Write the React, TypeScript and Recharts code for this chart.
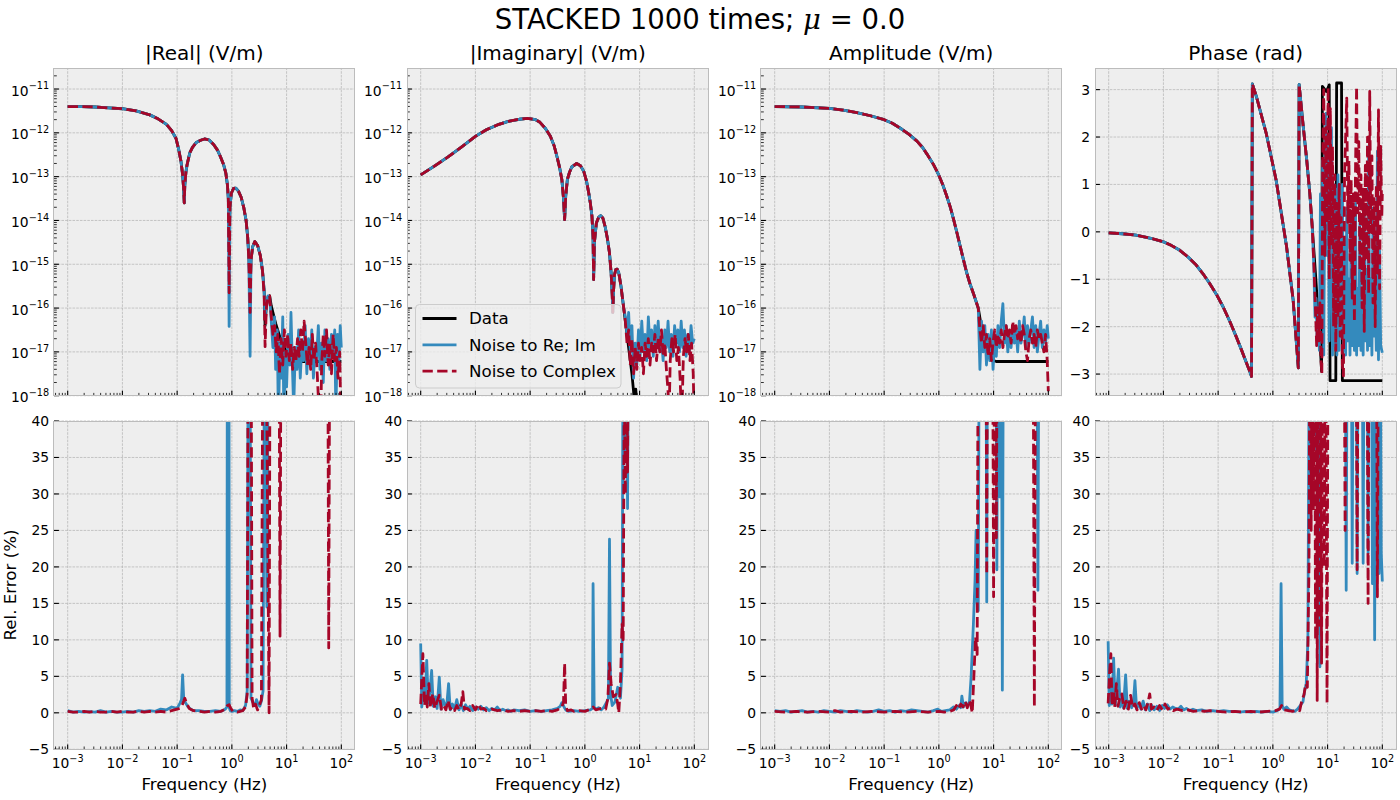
import React from 'react';
import { LineChart, Line, XAxis, YAxis, ReferenceLine } from 'recharts';

type Pair = [number, number];
type Pt = { f: number; v: number };

const C_DATA = '#000000';
const C_REIM = '#348ABD';
const C_CPLX = '#A60628';
const FONT = "'DejaVu Sans', 'Liberation Sans', sans-serif";

// ---------------- |Real| (V/m): [log10 f (Hz), log10 |Re E| (V/m)] ----------------
const realHead: Pair[] = [
  [-3.0, -11.4], [-2.75, -11.4], [-2.5, -11.41], [-2.25, -11.43], [-2.0, -11.45], [-1.75, -11.5],
  [-1.5, -11.59], [-1.35, -11.68], [-1.2, -11.8], [-1.1, -11.95], [-1.02, -12.13], [-0.97, -12.39],
  [-0.93, -12.65], [-0.9, -12.95], [-0.88, -13.3], [-0.87, -13.6], [-0.86, -13.2], [-0.84, -12.9],
  [-0.82, -12.74], [-0.77, -12.46], [-0.72, -12.33], [-0.65, -12.22], [-0.57, -12.17], [-0.5, -12.14],
  [-0.42, -12.16], [-0.33, -12.27], [-0.26, -12.4], [-0.21, -12.54], [-0.15, -12.73], [-0.11, -12.92],
  [-0.08, -13.2], [-0.065, -13.5],
];
const realDataTail: Pair[] = [
  [-0.05, -14.6], [-0.035, -13.7], [-0.01, -13.38], [0.03, -13.27], [0.07, -13.26], [0.12, -13.33],
  [0.17, -13.47], [0.22, -13.72], [0.26, -14.0], [0.29, -14.4], [0.31, -14.8], [0.333, -15.6],
  [0.35, -14.9], [0.38, -14.6], [0.42, -14.48], [0.47, -14.57], [0.52, -14.8], [0.56, -15.15],
  [0.59, -15.6], [0.607, -16.4], [0.63, -15.95], [0.66, -15.75], [0.69, -15.72], [0.72, -15.95],
  [0.8, -16.35], [0.9, -16.75], [1.0, -17.0], [1.1, -17.15], [1.2, -17.22], [2.0, -17.22],
];
const realReImTail: Pair[] = [
  [-0.05, -16.42], [-0.035, -13.7], [-0.01, -13.38], [0.03, -13.27], [0.07, -13.26], [0.12, -13.33],
  [0.17, -13.47], [0.22, -13.72], [0.26, -14.0], [0.29, -14.4], [0.31, -14.9], [0.333, -17.1],
  [0.35, -14.9], [0.38, -14.6], [0.42, -14.48], [0.47, -14.57], [0.52, -14.8], [0.56, -15.15],
  [0.59, -15.6], [0.607, -16.2], [0.63, -15.9], [0.66, -15.72], [0.69, -15.75], [0.72, -16.3],
  [0.75, -16.9], [0.78, -16.2], [0.8, -17.4], [0.83, -16.5], [0.85, -18.6], [0.88, -16.8], [0.9, -17.6],
  [0.93, -16.2], [0.95, -18.5], [0.98, -17.0], [1.0, -17.8], [1.03, -16.6], [1.06, -17.3], [1.08, -16.1],
  [1.11, -17.5], [1.13, -18.3], [1.16, -16.9], [1.19, -17.4], [1.22, -16.5], [1.25, -17.6], [1.28, -16.8],
  [1.31, -17.2], [1.34, -16.4], [1.37, -17.5], [1.4, -16.7], [1.43, -17.3], [1.46, -16.5], [1.49, -17.6],
  [1.52, -16.9], [1.55, -17.1], [1.58, -16.4], [1.61, -17.4], [1.64, -16.8], [1.67, -17.7], [1.7, -16.5],
  [1.73, -17.2], [1.76, -16.7], [1.79, -17.4], [1.82, -16.6], [1.85, -17.0], [1.88, -16.5], [1.9, -18.4],
  [1.93, -16.6], [1.96, -17.2], [1.98, -16.4], [2.0, -16.9],
];
const realCplxTail: Pair[] = [
  [-0.05, -15.65], [-0.035, -13.7], [-0.01, -13.38], [0.03, -13.27], [0.07, -13.26], [0.12, -13.33],
  [0.17, -13.47], [0.22, -13.72], [0.26, -14.0], [0.29, -14.4], [0.31, -14.9], [0.333, -16.1],
  [0.35, -14.9], [0.38, -14.6], [0.42, -14.48], [0.47, -14.57], [0.52, -14.8], [0.56, -15.15],
  [0.59, -15.7], [0.607, -16.88], [0.63, -16.0], [0.66, -15.75], [0.69, -15.72], [0.72, -16.2],
  [0.75, -16.6], [0.78, -16.4], [0.81, -17.0], [0.84, -16.6], [0.87, -17.5], [0.9, -16.7], [0.93, -17.3],
  [0.96, -16.5], [0.99, -17.1], [1.02, -16.6], [1.05, -17.2], [1.08, -16.8], [1.11, -17.4], [1.14, -16.9],
  [1.17, -17.2], [1.2, -16.7], [1.23, -17.1], [1.26, -16.5], [1.29, -17.0], [1.32, -16.3], [1.35, -16.8],
  [1.38, -17.3], [1.41, -16.9], [1.44, -17.4], [1.47, -16.6], [1.5, -17.2], [1.53, -16.8], [1.56, -17.5],
  [1.59, -18.3], [1.62, -19.0], [1.64, -17.3], [1.67, -16.6], [1.7, -17.1], [1.73, -16.5], [1.76, -17.3],
  [1.79, -16.8], [1.82, -17.5], [1.85, -16.6], [1.88, -17.2], [1.91, -16.9], [1.94, -17.6], [1.97, -17.0],
  [2.0, -19.0],
];

// ---------------- |Imaginary| (V/m) ----------------
const imagHead: Pair[] = [
  [-3.0, -12.96], [-2.75, -12.76], [-2.5, -12.55], [-2.25, -12.32], [-2.0, -12.08], [-1.8, -11.93],
  [-1.6, -11.82], [-1.4, -11.74], [-1.2, -11.69], [-1.05, -11.67], [-0.9, -11.7], [-0.82, -11.76],
  [-0.72, -11.9], [-0.63, -12.08], [-0.56, -12.3], [-0.51, -12.54], [-0.46, -12.8], [-0.42, -13.07],
  [-0.39, -13.5], [-0.37, -13.98], [-0.35, -13.45], [-0.32, -13.07], [-0.28, -12.9], [-0.24, -12.78],
  [-0.15, -12.7], [-0.08, -12.75], [-0.02, -12.88], [0.03, -13.1], [0.07, -13.37], [0.1, -13.6],
  [0.13, -13.91], [0.15, -14.4], [0.16, -15.35], [0.175, -14.5], [0.21, -14.06], [0.25, -13.93],
  [0.29, -13.89], [0.33, -13.95], [0.37, -14.14], [0.41, -14.4], [0.45, -14.74], [0.48, -15.2],
  [0.5, -15.7], [0.51, -16.1], [0.525, -15.6], [0.54, -15.25], [0.565, -15.12], [0.59, -15.11],
  [0.62, -15.2], [0.66, -15.5], [0.69, -15.8], [0.71, -16.0],
];
const imagDataTail: Pair[] = [
  [0.74, -16.3], [0.78, -16.7], [0.82, -17.1], [0.86, -17.5], [0.89, -17.9], [0.91, -18.3],
  [0.93, -17.85], [0.95, -18.2], [0.97, -19.0], [2.0, -19.5],
];
const imagReImTail: Pair[] = [
  [0.74, -16.2], [0.77, -16.6], [0.8, -16.1], [0.83, -17.0], [0.86, -16.4], [0.89, -17.6], [0.92, -16.8],
  [0.95, -17.3], [0.98, -16.5], [1.01, -17.1], [1.04, -16.3], [1.07, -17.0], [1.1, -16.6], [1.13, -17.2],
  [1.16, -16.2], [1.19, -16.9], [1.22, -16.5], [1.25, -17.1], [1.28, -16.4], [1.31, -16.9], [1.34, -16.3],
  [1.37, -17.0], [1.4, -16.7], [1.43, -17.2], [1.46, -16.5], [1.49, -16.9], [1.52, -16.3], [1.55, -17.0],
  [1.58, -16.6], [1.61, -17.1], [1.64, -16.4], [1.67, -16.8], [1.7, -16.5], [1.73, -17.0], [1.76, -16.3],
  [1.79, -16.9], [1.82, -16.5], [1.85, -17.1], [1.88, -16.6], [1.91, -17.0], [1.94, -16.4], [1.97, -16.8],
  [2.0, -16.7],
];
const imagCplxTail: Pair[] = [
  [0.74, -16.3], [0.77, -16.8], [0.8, -16.5], [0.83, -17.3], [0.86, -16.7], [0.89, -17.5], [0.92, -16.9],
  [0.95, -17.4], [0.98, -16.8], [1.01, -17.2], [1.04, -16.9], [1.07, -17.5], [1.1, -16.8], [1.13, -17.1],
  [1.16, -16.7], [1.19, -17.3], [1.22, -16.8], [1.25, -17.0], [1.28, -16.6], [1.31, -17.2], [1.34, -16.7],
  [1.37, -17.0], [1.4, -16.5], [1.43, -17.1], [1.46, -16.8], [1.49, -17.4], [1.52, -17.9], [1.54, -18.4],
  [1.56, -17.2], [1.59, -16.7], [1.62, -17.0], [1.65, -16.6], [1.68, -17.2], [1.71, -16.9], [1.74, -17.6],
  [1.77, -18.6], [1.8, -17.1], [1.83, -16.7], [1.86, -17.0], [1.89, -16.6], [1.92, -17.2], [1.95, -16.8],
  [1.98, -17.5], [2.0, -18.6],
];

// ---------------- Amplitude (V/m) ----------------
const ampHead: Pair[] = [
  [-3.0, -11.4], [-2.5, -11.41], [-2.0, -11.44], [-1.75, -11.48], [-1.5, -11.54], [-1.25, -11.61],
  [-1.0, -11.7], [-0.85, -11.78], [-0.71, -11.89], [-0.55, -12.03], [-0.4, -12.19], [-0.3, -12.33],
  [-0.22, -12.48], [-0.1, -12.72], [-0.01, -12.94], [0.07, -13.18], [0.14, -13.43], [0.21, -13.7],
  [0.27, -13.98], [0.33, -14.28], [0.39, -14.59], [0.45, -14.9], [0.51, -15.2], [0.57, -15.45],
  [0.63, -15.66], [0.68, -15.85], [0.72, -16.0],
];
const ampDataTail: Pair[] = [
  [0.76, -16.3], [0.81, -16.6], [0.86, -16.85], [0.905, -16.95], [0.95, -17.1], [1.0, -17.2],
  [1.05, -17.22], [2.0, -17.22],
];
const ampReImTail: Pair[] = [
  [0.75, -17.4], [0.78, -16.3], [0.81, -17.0], [0.84, -16.4], [0.87, -17.3], [0.9, -16.6], [0.93, -17.2],
  [0.96, -16.5], [0.99, -17.4], [1.02, -16.7], [1.05, -17.1], [1.08, -16.4], [1.11, -16.9], [1.14, -16.3],
  [1.17, -15.9], [1.2, -16.8], [1.23, -16.4], [1.26, -17.0], [1.29, -16.6], [1.32, -16.9], [1.35, -16.4],
  [1.38, -16.8], [1.41, -16.5], [1.44, -17.0], [1.47, -16.3], [1.5, -16.8], [1.53, -16.6], [1.56, -16.2],
  [1.59, -16.9], [1.62, -16.4], [1.65, -16.8], [1.68, -16.5], [1.71, -16.2], [1.74, -16.9], [1.77, -16.4],
  [1.8, -17.0], [1.83, -16.6], [1.86, -16.3], [1.89, -16.9], [1.92, -16.5], [1.95, -16.8], [1.98, -16.4],
  [2.0, -16.7],
];
const ampCplxTail: Pair[] = [
  [0.75, -16.5], [0.78, -16.8], [0.81, -16.4], [0.84, -16.9], [0.87, -16.6], [0.9, -17.1], [0.93, -16.7],
  [0.96, -17.2], [0.99, -16.8], [1.02, -16.5], [1.05, -16.9], [1.08, -16.6], [1.11, -16.8], [1.14, -16.5],
  [1.17, -16.9], [1.2, -16.6], [1.23, -16.4], [1.26, -16.7], [1.29, -16.5], [1.32, -16.8], [1.35, -16.3],
  [1.38, -16.6], [1.41, -16.4], [1.44, -16.7], [1.47, -16.5], [1.5, -16.8], [1.53, -16.4], [1.56, -16.6],
  [1.59, -17.0], [1.62, -17.2], [1.65, -16.7], [1.68, -16.5], [1.71, -16.8], [1.74, -16.6], [1.77, -16.9],
  [1.8, -16.5], [1.83, -16.7], [1.86, -16.6], [1.89, -16.8], [1.92, -17.0], [1.95, -16.6], [1.98, -17.2],
  [2.0, -17.9],
];

// ---------------- Phase (rad) ----------------
const phaseHead: Pair[] = [
  [-3.0, -0.02], [-2.75, -0.04], [-2.5, -0.07], [-2.25, -0.13], [-2.0, -0.21], [-1.85, -0.29],
  [-1.7, -0.39], [-1.55, -0.53], [-1.4, -0.7], [-1.28, -0.88], [-1.16, -1.08], [-1.03, -1.32],
  [-0.91, -1.58], [-0.79, -1.88], [-0.67, -2.21], [-0.57, -2.5], [-0.48, -2.77], [-0.42, -2.95],
  [-0.39, -3.05], [-0.375, 3.12], [-0.3, 2.85], [-0.12, 2.07], [0.06, 1.09], [0.25, -0.31],
  [0.37, -1.43], [0.465, -2.87], [0.48, 3.11], [0.55, 2.28], [0.62, 1.5], [0.675, 0.81], [0.72, 0.1],
];
const phaseDataTail: Pair[] = [
  [0.78, -0.9], [0.83, -1.8], [0.87, -2.5], [0.89, -2.94], [0.905, 3.07], [0.98, 2.96], [1.03, 3.1],
  [1.045, -3.14], [1.15, -3.14], [1.165, 3.14], [1.255, 3.14], [1.27, -3.14], [2.0, -3.14],
];
const phaseReImTail: Pair[] = [
  [0.75, -0.8], [0.77, -1.8], [0.79, -1.4], [0.81, -2.3], [0.83, -1.6], [0.85, -2.5], [0.87, 0.8],
  [0.89, -2.0], [0.91, 1.5], [0.93, -2.6], [0.95, 1.2], [0.97, 2.5], [0.99, -0.5], [1.01, 1.8],
  [1.03, -2.3], [1.05, 0.6], [1.07, 2.2], [1.09, -2.6], [1.11, 1.0], [1.13, -2.4], [1.15, 0.9],
  [1.17, -2.6], [1.19, 1.2], [1.21, -2.5], [1.23, 0.7], [1.25, -2.2], [1.27, 1.0], [1.29, -2.5],
  [1.31, -0.2], [1.33, -2.6], [1.35, 0.5], [1.37, -2.3], [1.39, -1.0], [1.41, -2.6], [1.43, 0.3],
  [1.45, -2.4], [1.47, -0.9], [1.49, -2.5], [1.51, 0.6], [1.53, -2.6], [1.55, -1.2], [1.57, -2.4],
  [1.59, 0.2], [1.61, -2.5], [1.63, -1.5], [1.65, -2.6], [1.67, 0.4], [1.69, -2.3], [1.71, -0.8],
  [1.73, -2.5], [1.75, 1.8], [1.77, -2.4], [1.79, -1.0], [1.81, -2.6], [1.83, 0.5], [1.85, -2.2],
  [1.87, -1.2], [1.89, -2.5], [1.91, 1.7], [1.93, -2.7], [1.95, -0.4], [1.97, -2.4], [1.99, -2.5],
  [2.0, -2.55],
];
const phaseCplxTail: Pair[] = [
  [0.75, -0.7], [0.78, -1.7], [0.8, -2.4], [0.82, -1.6], [0.84, -2.3], [0.86, -1.5], [0.88, -2.7],
  [0.895, -3.0], [0.91, 1.5], [0.93, 3.0], [0.95, -0.5], [0.97, 2.2], [0.99, 0.2], [1.01, 3.05],
  [1.03, -1.0], [1.05, 2.6], [1.07, -0.3], [1.09, 1.8], [1.11, -2.0], [1.13, 1.2], [1.15, -2.5],
  [1.17, 0.6], [1.19, -1.8], [1.21, 1.0], [1.23, -2.2], [1.25, 0.3], [1.27, -2.8], [1.29, -3.04],
  [1.31, 1.2], [1.33, 2.0], [1.35, 2.82], [1.37, 0.2], [1.39, 1.5], [1.41, -0.6], [1.43, 1.1],
  [1.45, -1.4], [1.47, 0.8], [1.49, -1.9], [1.51, 1.3], [1.53, 3.06], [1.55, 0.4], [1.57, 1.9],
  [1.59, -0.8], [1.61, 1.2], [1.63, -1.6], [1.65, 0.9], [1.67, -2.1], [1.69, 1.4], [1.71, -0.6],
  [1.73, 2.0], [1.75, -1.3], [1.77, 2.96], [1.79, 0.0], [1.81, 1.6], [1.83, -1.5], [1.85, 0.7],
  [1.87, -2.0], [1.89, 1.0], [1.91, -0.9], [1.93, 2.57], [1.95, -1.2], [1.97, 1.8], [1.99, 0.3],
  [2.0, 0.8],
];

// ---------------- Relative error (%) : [log10 f, error] ----------------
const errRealReIm: Pair[] = [
  [-3.0, 0.3], [-2.9, 0.1], [-2.8, 0.2], [-2.7, 0.1], [-2.6, 0.15], [-2.5, 0.1], [-2.4, 0.3], [-2.3, 0.1],
  [-2.2, 0.2], [-2.1, 0.1], [-2.0, 0.1], [-1.9, 0.2], [-1.8, 0.1], [-1.7, 0.3], [-1.6, 0.2], [-1.5, 0.3],
  [-1.4, 0.2], [-1.3, 0.5], [-1.2, 0.4], [-1.1, 0.8], [-1.0, 0.6], [-0.95, 1.3], [-0.92, 1.8], [-0.9, 5.2],
  [-0.88, 2.0], [-0.85, 1.4], [-0.8, 0.8], [-0.75, 0.5], [-0.7, 0.3], [-0.6, 0.3], [-0.5, 0.2], [-0.4, 0.2],
  [-0.3, 0.3], [-0.2, 0.2], [-0.12, 0.5], [-0.09, 0.8], [-0.082, 60], [-0.075, 1.0], [-0.068, 60],
  [-0.061, 2.0], [-0.054, 60], [-0.047, 0.7], [-0.03, 0.3], [0.0, 0.2], [0.05, 0.3], [0.1, 0.2],
  [0.15, 0.4], [0.2, 0.3], [0.25, 1.0], [0.28, 3.0], [0.3, 60], [0.33, 60], [0.35, 2.0], [0.38, 1.5],
  [0.42, 1.0], [0.45, 1.8], [0.48, 1.2], [0.51, 0.9], [0.54, 1.6], [0.57, 3.0], [0.6, 60], [0.64, 14.5],
  [0.67, 60], [2.0, 60],
];
const errRealCplx: Pair[] = [
  [-3.0, 0.2], [-2.9, 0.1], [-2.8, 0.1], [-2.7, 0.2], [-2.6, 0.1], [-2.5, 0.2], [-2.4, 0.1], [-2.3, 0.1],
  [-2.2, 0.2], [-2.1, 0.1], [-2.0, 0.2], [-1.9, 0.1], [-1.8, 0.1], [-1.7, 0.2], [-1.6, 0.1], [-1.5, 0.2],
  [-1.4, 0.1], [-1.3, 0.2], [-1.2, 0.1], [-1.1, 0.3], [-1.0, 0.5], [-0.95, 0.6], [-0.9, 1.2], [-0.86, 2.0],
  [-0.82, 1.2], [-0.78, 0.6], [-0.7, 0.3], [-0.6, 0.2], [-0.5, 0.1], [-0.4, 0.2], [-0.3, 0.1], [-0.2, 0.2],
  [-0.12, 0.5], [-0.08, 1.0], [-0.05, 1.1], [-0.02, 0.6], [0.02, 0.2], [0.1, 0.1], [0.2, 0.3], [0.25, 0.8],
  [0.28, 2.5], [0.3, 60], [0.35, 60], [0.37, 2.0], [0.4, 0.5], [0.43, 1.2], [0.47, 0.4], [0.5, 1.0],
  [0.54, 1.8], [0.57, 60], [0.62, 60], [0.65, 30], [0.68, 0.0], [0.7, 60], [0.86, 60], [0.88, 10.5],
  [0.9, 60], [1.75, 60], [1.77, 8.9], [1.79, 60], [2.0, 60],
];
const errImagReIm: Pair[] = [
  [-3.0, 9.5], [-2.98, 0.8], [-2.95, 3.5], [-2.92, 1.5], [-2.89, 7.2], [-2.86, 1.3], [-2.83, 3.0],
  [-2.8, 5.8], [-2.77, 0.9], [-2.73, 2.2], [-2.7, 0.6], [-2.66, 4.9], [-2.63, 0.5], [-2.59, 1.8],
  [-2.55, 0.8], [-2.52, 1.4], [-2.49, 4.0], [-2.46, 0.4], [-2.42, 1.2], [-2.38, 0.5], [-2.34, 1.8],
  [-2.3, 0.4], [-2.26, 1.2], [-2.22, 0.3], [-2.18, 1.1], [-2.14, 0.5], [-2.1, 0.9], [-2.05, 0.3],
  [-2.0, 0.8], [-1.95, 0.5], [-1.9, 0.9], [-1.85, 0.4], [-1.8, 0.7], [-1.75, 0.3], [-1.7, 0.6],
  [-1.65, 0.4], [-1.6, 0.8], [-1.55, 0.3], [-1.5, 0.5], [-1.45, 0.3], [-1.4, 0.4], [-1.35, 0.2],
  [-1.3, 0.4], [-1.2, 0.3], [-1.1, 0.4], [-1.0, 0.2], [-0.9, 0.3], [-0.8, 0.2], [-0.7, 0.3], [-0.6, 0.4],
  [-0.5, 0.6], [-0.45, 0.9], [-0.42, 1.4], [-0.38, 0.8], [-0.35, 0.4], [-0.3, 0.2], [-0.2, 0.3],
  [-0.1, 0.2], [0.0, 0.3], [0.1, 0.4], [0.14, 0.6], [0.15, 17.7], [0.17, 0.8], [0.2, 0.5], [0.25, 0.7],
  [0.3, 0.4], [0.35, 0.8], [0.4, 1.5], [0.43, 2.0], [0.45, 23.8], [0.47, 2.5], [0.5, 1.0], [0.55, 1.5],
  [0.6, 3.5], [0.65, 2.0], [0.68, 6.0], [0.7, 60], [0.73, 35], [0.75, 60], [0.78, 28], [0.8, 60],
  [2.0, 60],
];
const errImagCplx: Pair[] = [
  [-3.0, 1.2], [-2.96, 8.1], [-2.93, 1.0], [-2.9, 2.5], [-2.88, 0.8], [-2.85, 4.0], [-2.82, 0.7],
  [-2.78, 2.6], [-2.74, 0.6], [-2.7, 1.6], [-2.66, 2.4], [-2.62, 0.5], [-2.58, 1.0], [-2.54, 0.4],
  [-2.5, 1.7], [-2.46, 0.5], [-2.42, 0.8], [-2.38, 0.3], [-2.34, 1.0], [-2.3, 0.4], [-2.26, 1.2],
  [-2.23, 2.9], [-2.2, 0.5], [-2.15, 0.6], [-2.1, 0.3], [-2.05, 1.0], [-2.0, 0.4], [-1.95, 1.2],
  [-1.9, 0.5], [-1.85, 0.6], [-1.8, 0.3], [-1.7, 0.5], [-1.6, 0.3], [-1.5, 0.4], [-1.4, 0.2], [-1.3, 0.3],
  [-1.2, 0.2], [-1.1, 0.3], [-1.0, 0.2], [-0.9, 0.3], [-0.8, 0.2], [-0.7, 0.3], [-0.6, 0.2], [-0.5, 0.4],
  [-0.42, 0.8], [-0.39, 1.5], [-0.37, 6.8], [-0.35, 1.0], [-0.32, 0.3], [-0.25, 0.4], [-0.2, 0.2],
  [-0.1, 0.3], [0.0, 0.2], [0.1, 0.5], [0.15, 0.8], [0.2, 0.4], [0.3, 0.6], [0.38, 0.5], [0.42, 2.0],
  [0.45, 6.8], [0.48, 4.0], [0.52, 2.2], [0.57, 2.5], [0.6, 1.2], [0.62, 0.0], [0.65, 4.0], [0.68, 12.2],
  [0.7, 10.0], [0.72, 45], [0.74, 30], [0.76, 60], [0.78, 33], [0.8, 60], [2.0, 60],
];
const errAmpReIm: Pair[] = [
  [-3.0, 0.3], [-2.9, 0.2], [-2.8, 0.3], [-2.7, 0.1], [-2.6, 0.2], [-2.5, 0.3], [-2.4, 0.1], [-2.3, 0.2],
  [-2.2, 0.1], [-2.1, 0.3], [-2.0, 0.2], [-1.9, 0.1], [-1.8, 0.3], [-1.7, 0.2], [-1.6, 0.1], [-1.5, 0.3],
  [-1.4, 0.2], [-1.3, 0.1], [-1.2, 0.2], [-1.1, 0.4], [-1.0, 0.2], [-0.9, 0.3], [-0.8, 0.1], [-0.7, 0.3],
  [-0.6, 0.2], [-0.5, 0.4], [-0.4, 0.3], [-0.3, 0.2], [-0.2, 0.1], [-0.1, 0.3], [-0.02, 0.5], [0.05, 0.2],
  [0.12, 0.3], [0.2, 0.4], [0.27, 0.8], [0.32, 0.5], [0.37, 1.0], [0.4, 0.7], [0.42, 2.3], [0.45, 0.8],
  [0.49, 1.4], [0.53, 0.9], [0.56, 1.6], [0.59, 5.0], [0.63, 12.0], [0.66, 18], [0.68, 25], [0.7, 15],
  [0.72, 14], [0.74, 60], [0.86, 60], [0.875, 15.2], [0.89, 60], [1.04, 60], [1.06, 19.6], [1.08, 60],
  [1.11, 29.6], [1.14, 60], [1.16, 3.1], [1.18, 60], [1.79, 60], [1.81, 16.8], [1.83, 60], [2.0, 60],
];
const errAmpCplx: Pair[] = [
  [-3.0, 0.2], [-2.8, 0.1], [-2.6, 0.2], [-2.4, 0.1], [-2.2, 0.2], [-2.0, 0.1], [-1.9, 0.3], [-1.8, 0.1],
  [-1.6, 0.2], [-1.4, 0.1], [-1.2, 0.2], [-1.0, 0.1], [-0.8, 0.2], [-0.6, 0.1], [-0.4, 0.2], [-0.2, 0.1],
  [0.0, 0.2], [0.1, 0.1], [0.2, 0.2], [0.27, 0.4], [0.32, 1.0], [0.36, 0.5], [0.4, 1.2], [0.44, 0.8],
  [0.48, 1.6], [0.52, 0.7], [0.55, 1.7], [0.58, 1.2], [0.61, 0.0], [0.64, 5.0], [0.67, 10.4], [0.7, 8.0],
  [0.72, 60], [0.86, 60], [0.875, 19.0], [0.89, 60], [0.98, 60], [1.0, 15.9], [1.02, 60], [1.04, 60],
  [1.05, 24], [1.07, 60], [1.72, 60], [1.745, 0.8], [1.77, 60], [2.0, 60],
];
const errPhaseReIm: Pair[] = [
  [-3.01, 9.8], [-2.99, 1.0], [-2.96, 4.0], [-2.94, 1.2], [-2.91, 7.5], [-2.88, 1.0], [-2.85, 3.2],
  [-2.82, 6.0], [-2.79, 0.8], [-2.76, 2.0], [-2.73, 0.7], [-2.69, 5.2], [-2.66, 0.6], [-2.62, 1.6],
  [-2.58, 0.7], [-2.55, 1.3], [-2.52, 4.4], [-2.49, 0.5], [-2.45, 1.3], [-2.41, 0.5], [-2.37, 1.6],
  [-2.33, 0.4], [-2.29, 1.2], [-2.25, 0.3], [-2.21, 1.0], [-2.17, 0.4], [-2.12, 0.9], [-2.07, 0.3],
  [-2.02, 1.0], [-1.98, 0.6], [-1.93, 1.1], [-1.88, 0.5], [-1.83, 0.8], [-1.78, 0.6], [-1.73, 0.5],
  [-1.68, 0.9], [-1.63, 0.4], [-1.58, 0.6], [-1.52, 0.3], [-1.46, 0.5], [-1.4, 0.3], [-1.3, 0.4],
  [-1.2, 0.2], [-1.1, 0.3], [-1.0, 0.2], [-0.9, 0.3], [-0.8, 0.2], [-0.7, 0.2], [-0.6, 0.1], [-0.5, 0.2],
  [-0.4, 0.1], [-0.3, 0.2], [-0.2, 0.1], [-0.1, 0.2], [0.0, 0.1], [0.08, 0.3], [0.13, 0.6], [0.15, 17.7],
  [0.17, 1.0], [0.2, 0.5], [0.25, 0.8], [0.3, 0.4], [0.35, 0.3], [0.4, 0.2], [0.45, 0.5], [0.5, 1.0],
  [0.55, 1.5], [0.58, 3.0], [0.61, 4.0], [0.64, 10], [0.67, 60], [0.75, 60], [0.8, 35], [0.83, 60],
  [0.86, 6.3], [0.88, 60], [1.32, 60], [1.34, 16.8], [1.36, 60], [1.43, 60], [1.45, 20.5], [1.47, 60],
  [1.52, 60], [1.54, 19.1], [1.56, 60], [1.63, 60], [1.65, 20.5], [1.67, 60], [1.72, 60], [1.74, 21.9],
  [1.76, 60], [1.8, 60], [1.82, 17.7], [1.84, 60], [1.86, 10.0], [1.88, 60], [1.92, 60], [1.94, 19.1],
  [1.96, 60], [1.98, 22], [2.0, 18.0],
];
const errPhaseCplx: Pair[] = [
  [-3.01, 1.3], [-2.98, 6.0], [-2.96, 8.1], [-2.94, 1.0], [-2.91, 3.0], [-2.89, 0.8], [-2.86, 4.0],
  [-2.83, 0.9], [-2.8, 2.0], [-2.76, 2.6], [-2.72, 0.6], [-2.68, 1.6], [-2.64, 0.5], [-2.6, 2.4],
  [-2.56, 0.7], [-2.52, 1.2], [-2.48, 0.4], [-2.44, 1.4], [-2.4, 0.5], [-2.36, 1.0], [-2.32, 0.4],
  [-2.28, 1.5], [-2.25, 2.6], [-2.22, 0.5], [-2.17, 0.8], [-2.12, 0.3], [-2.07, 1.0], [-2.02, 0.4],
  [-1.97, 1.2], [-1.92, 0.5], [-1.87, 0.7], [-1.82, 0.3], [-1.75, 0.5], [-1.65, 0.3], [-1.55, 0.4],
  [-1.45, 0.2], [-1.35, 0.3], [-1.25, 0.2], [-1.15, 0.3], [-1.0, 0.2], [-0.85, 0.1], [-0.7, 0.2],
  [-0.55, 0.1], [-0.4, 0.2], [-0.25, 0.1], [-0.1, 0.2], [0.05, 0.3], [0.12, 0.5], [0.16, 1.0], [0.2, 0.4],
  [0.28, 0.3], [0.36, 0.2], [0.44, 0.4], [0.49, 0.3], [0.53, 1.7], [0.57, 2.5], [0.6, 4.0], [0.63, 3.5],
  [0.66, 20], [0.68, 60], [0.7, 25], [0.715, 60], [0.74, 27.8], [0.76, 60], [0.78, 10], [0.8, 60],
  [0.81, 1.7], [0.83, 60], [0.85, 12], [0.87, 60], [0.89, 6.8], [0.91, 60], [0.94, 20], [0.96, 60],
  [0.99, 1.3], [1.01, 60], [1.3, 60], [1.32, 25], [1.34, 60], [1.52, 60], [1.54, 19.6], [1.56, 60],
  [1.72, 60], [1.74, 15.0], [1.76, 60], [1.89, 60], [1.91, 15.9], [1.93, 60], [2.0, 60],
];

// ---------------- axes ----------------
const X_DOMAIN: [number, number] = [10 ** -3.25, 10 ** 2.25];
const LOG_DOMAIN: [number, number] = [1e-18, 10 ** -10.52];
const PHASE_DOMAIN: [number, number] = [-3.456, 3.456];
const ERR_DOMAIN: [number, number] = [-5, 40];

const MINOR_MULT = [2, 3, 4, 5, 6, 7, 8, 9];
const FREQ_MAJORS = [1e-3, 1e-2, 1e-1, 1, 1e1, 1e2];
const FREQ_TICKS = [1e-4, ...FREQ_MAJORS]
  .flatMap((d) => [d, ...MINOR_MULT.map((m) => m * d)])
  .filter((f) => f > X_DOMAIN[0] && f < X_DOMAIN[1]);
const LOG_MAJORS = [1e-18, 1e-17, 1e-16, 1e-15, 1e-14, 1e-13, 1e-12, 1e-11];
const LOG_TICKS = LOG_MAJORS.flatMap((d) => [d, ...MINOR_MULT.map((m) => m * d)]).filter(
  (v) => v < LOG_DOMAIN[1] * 0.95,
);
const PHASE_TICKS = [-3, -2, -1, 0, 1, 2, 3];
const ERR_TICKS = [-5, 0, 5, 10, 15, 20, 25, 30, 35, 40];

const logPts = (p: Pair[]): Pt[] => p.map(([e, v]) => ({ f: 10 ** e, v: 10 ** v }));
const linPts = (p: Pair[]): Pt[] => p.map(([e, v]) => ({ f: 10 ** e, v }));

// ---------------- layout ----------------
const COL_LEFT = [53.8, 407.3, 760.7, 1095.2];
const PLOT_W = 301;
const ROW_TOP = [68.3, 421];
const PLOT_H = [327.7, 328.3];
const YW = 70;
const MT = 10;
const MR = 10;
const XH = 50;

const minus = (n: number) => (n < 0 ? '\u2212' + Math.abs(n) : String(n));
const isDecade = (v: number) => {
  const e = Math.log10(v);
  return Math.abs(e - Math.round(e)) < 1e-6;
};

const xTick = (showLabel: boolean) => (p: any) => {
  const { x, y, payload } = p;
  const major = isDecade(payload.value);
  return (
    <g>
      <line x1={x} x2={x} y1={y} y2={y - (major ? 4.9 : 2.8)} stroke="#000" strokeWidth={major ? 1.1 : 0.8} />
      {major && showLabel ? (
        <text x={x} y={y + 19} textAnchor="middle" fontSize={13.9} fontFamily={FONT} fill="#000">
          10
          <tspan dy={-6.5} fontSize={9.7}>
            {minus(Math.round(Math.log10(payload.value)))}
          </tspan>
        </text>
      ) : null}
    </g>
  );
};

const logYTick = (p: any) => {
  const { x, y, payload } = p;
  const major = isDecade(payload.value);
  return (
    <g>
      <line x1={x} x2={x + (major ? 4.9 : 2.8)} y1={y} y2={y} stroke="#000" strokeWidth={major ? 1.1 : 0.8} />
      {major ? (
        <text x={x - 4.9} y={y + 6.6} textAnchor="end" fontSize={13.9} fontFamily={FONT} fill="#000">
          10
          <tspan dy={-6.3} fontSize={9.7}>
            {minus(Math.round(Math.log10(payload.value)))}
          </tspan>
        </text>
      ) : null}
    </g>
  );
};

const linYTick = (p: any) => {
  const { x, y, payload } = p;
  return (
    <g>
      <line x1={x} x2={x + 4.9} y1={y} y2={y} stroke="#000" strokeWidth={1.1} />
      <text x={x - 4.9} y={y + 5} textAnchor="end" fontSize={13.9} fontFamily={FONT} fill="#000">
        {minus(payload.value)}
      </text>
    </g>
  );
};

type Series = { pts: Pt[]; color: string; dash?: boolean };
type Kind = 'log' | 'phase' | 'err';
type PanelSpec = { col: number; row: number; kind: Kind; series: Series[] };

const panels: PanelSpec[] = [
  {
    col: 0, row: 0, kind: 'log',
    series: [
      { pts: logPts([...realHead, ...realDataTail]), color: C_DATA },
      { pts: logPts([...realHead, ...realReImTail]), color: C_REIM },
      { pts: logPts([...realHead, ...realCplxTail]), color: C_CPLX, dash: true },
    ],
  },
  {
    col: 1, row: 0, kind: 'log',
    series: [
      { pts: logPts([...imagHead, ...imagDataTail]), color: C_DATA },
      { pts: logPts([...imagHead, ...imagReImTail]), color: C_REIM },
      { pts: logPts([...imagHead, ...imagCplxTail]), color: C_CPLX, dash: true },
    ],
  },
  {
    col: 2, row: 0, kind: 'log',
    series: [
      { pts: logPts([...ampHead, ...ampDataTail]), color: C_DATA },
      { pts: logPts([...ampHead, ...ampReImTail]), color: C_REIM },
      { pts: logPts([...ampHead, ...ampCplxTail]), color: C_CPLX, dash: true },
    ],
  },
  {
    col: 3, row: 0, kind: 'phase',
    series: [
      { pts: linPts([...phaseHead, ...phaseDataTail]), color: C_DATA },
      { pts: linPts([...phaseHead, ...phaseReImTail]), color: C_REIM },
      { pts: linPts([...phaseHead, ...phaseCplxTail]), color: C_CPLX, dash: true },
    ],
  },
  { col: 0, row: 1, kind: 'err', series: [{ pts: linPts(errRealReIm), color: C_REIM }, { pts: linPts(errRealCplx), color: C_CPLX, dash: true }] },
  { col: 1, row: 1, kind: 'err', series: [{ pts: linPts(errImagReIm), color: C_REIM }, { pts: linPts(errImagCplx), color: C_CPLX, dash: true }] },
  { col: 2, row: 1, kind: 'err', series: [{ pts: linPts(errAmpReIm), color: C_REIM }, { pts: linPts(errAmpCplx), color: C_CPLX, dash: true }] },
  { col: 3, row: 1, kind: 'err', series: [{ pts: linPts(errPhaseReIm), color: C_REIM }, { pts: linPts(errPhaseCplx), color: C_CPLX, dash: true }] },
];

const TITLES = ['|Real| (V/m)', '|Imaginary| (V/m)', 'Amplitude (V/m)', 'Phase (rad)'];
const GRID = { stroke: '#b2b2b2', strokeWidth: 0.7, strokeDasharray: '2.6 1.1' };

function Panel({ col, row, kind, series }: PanelSpec) {
  const left = COL_LEFT[col];
  const top = ROW_TOP[row];
  const h = PLOT_H[row];
  const yDomain = kind === 'log' ? LOG_DOMAIN : kind === 'phase' ? PHASE_DOMAIN : ERR_DOMAIN;
  const yTicks = kind === 'log' ? LOG_TICKS : kind === 'phase' ? PHASE_TICKS : ERR_TICKS;
  const yGrid = kind === 'log' ? LOG_MAJORS : yTicks;
  return (
    <>
      <div style={{ position: 'absolute', left, top, width: PLOT_W, height: h, background: '#eeeeee' }} />
      <div style={{ position: 'absolute', left: left - YW, top: top - MT }}>
        <LineChart
          width={YW + PLOT_W + MR}
          height={MT + h + XH}
          margin={{ top: MT, right: MR, bottom: 0, left: 0 }}
        >
          {FREQ_MAJORS.map((f) => (
            <ReferenceLine key={'gx' + f} x={f} {...GRID} ifOverflow="visible" />
          ))}
          {yGrid.map((v) => (
            <ReferenceLine key={'gy' + v} y={v} {...GRID} ifOverflow="visible" />
          ))}
          {series.map((s, i) => (
            <Line
              key={i}
              data={s.pts}
              dataKey="v"
              type="linear"
              stroke={s.color}
              strokeWidth={2.8}
              strokeDasharray={s.dash ? '10.3 4.4' : undefined}
              strokeLinejoin="round"
              dot={false}
              activeDot={false}
              isAnimationActive={false}
            />
          ))}
          <XAxis
            dataKey="f"
            type="number"
            scale="log"
            domain={X_DOMAIN}
            allowDataOverflow
            ticks={FREQ_TICKS}
            interval={0}
            axisLine={false}
            tickLine={false}
            tickSize={0}
            tickMargin={0}
            height={XH}
            tick={xTick(row === 1)}
          />
          <YAxis
            type="number"
            scale={kind === 'log' ? 'log' : 'linear'}
            domain={yDomain}
            allowDataOverflow
            ticks={yTicks}
            interval={0}
            axisLine={false}
            tickLine={false}
            tickSize={0}
            tickMargin={0}
            width={YW}
            tick={kind === 'log' ? logYTick : linYTick}
          />
        </LineChart>
      </div>
      <div
        style={{
          position: 'absolute',
          left: left - 0.5,
          top: top - 0.5,
          width: PLOT_W + 1,
          height: h + 1,
          border: '1.1px solid #bcbcbc',
          boxSizing: 'border-box',
          pointerEvents: 'none',
        }}
      />
    </>
  );
}

function LegendBox() {
  const rows = [
    { label: 'Data', color: C_DATA, dash: false },
    { label: 'Noise to Re; Im', color: C_REIM, dash: false },
    { label: 'Noise to Complex', color: C_CPLX, dash: true },
  ];
  return (
    <svg width={207} height={85} style={{ position: 'absolute', left: 414.5, top: 303.8 }}>
      <rect x={0.5} y={0.5} width={205.5} height={83.5} rx={4} fill="#eeeeee" fillOpacity={0.8} stroke="#cccccc" strokeWidth={1} />
      {rows.map((r, i) => {
        const cy = 14.5 + i * 26.3;
        return (
          <g key={r.label}>
            <line x1={7.5} x2={41.5} y1={cy} y2={cy} stroke={r.color} strokeWidth={2.8} strokeDasharray={r.dash ? '10.3 4.4' : undefined} />
            <text x={54} y={cy + 5.9} fontSize={16.7} fontFamily={FONT} fill="#000">
              {r.label}
            </text>
          </g>
        );
      })}
    </svg>
  );
}

export default function App() {
  return (
    <div style={{ position: 'absolute', left: 0, top: 0, width: 1400, height: 800, background: '#ffffff', overflow: 'hidden' }}>
      {panels.map((p) => (
        <Panel key={p.col + '-' + p.row} {...p} />
      ))}
      <LegendBox />
      <svg width={1400} height={800} style={{ position: 'absolute', left: 0, top: 0, pointerEvents: 'none' }}>
        <text x={700} y={28.5} textAnchor="middle" fontSize={27.5} fontFamily={FONT} fill="#000">
          STACKED 1000 times;{' '}
          <tspan fontFamily="'DejaVu Serif', serif" fontStyle="italic">
            μ
          </tspan>
          <tspan> = 0.0</tspan>
        </text>
        {TITLES.map((t, i) => (
          <text key={t} x={COL_LEFT[i] + PLOT_W / 2} y={60} textAnchor="middle" fontSize={20} fontFamily={FONT} fill="#000">
            {t}
          </text>
        ))}
        {COL_LEFT.map((l, i) => (
          <text key={'fx' + i} x={l + PLOT_W / 2} y={790} textAnchor="middle" fontSize={16.7} fontFamily={FONT} fill="#000">
            Frequency (Hz)
          </text>
        ))}
        <text transform="translate(15.5,585) rotate(-90)" textAnchor="middle" fontSize={16.7} fontFamily={FONT} fill="#000">
          Rel. Error (%)
        </text>
      </svg>
    </div>
  );
}
